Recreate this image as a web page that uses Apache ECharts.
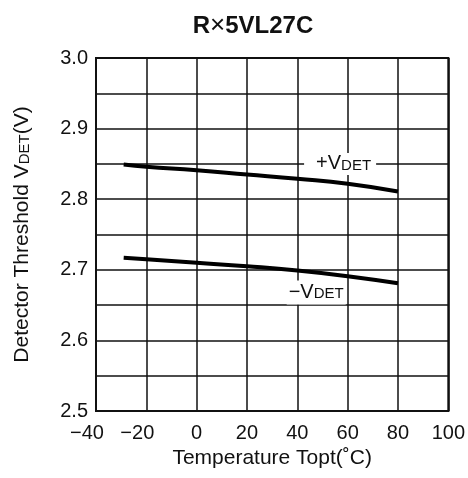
<!DOCTYPE html>
<html>
<head>
<meta charset="utf-8">
<script src="https://cdn.jsdelivr.net/npm/echarts@6/dist/echarts.min.js"></script>
<style>
  html, body { margin: 0; padding: 0; background: #fff; }
  #chart { width: 468px; height: 478px; }
</style>
</head>
<body>
<div id="chart"></div>
<script>
// values
const temps = [-29, -20, 0, 20, 40, 60, 80];
const plusVdet = [2.849, 2.846, 2.841, 2.835, 2.829, 2.822, 2.811];
const minusVdet = [2.717, 2.715, 2.710, 2.705, 2.699, 2.691, 2.681];
const xTicks = [-40, -20, 0, 20, 40, 60, 80, 100];
const yTicks = [2.5, 2.6, 2.7, 2.8, 2.9, 3.0];

const FONT = 'Liberation Sans, Arial, sans-serif';

const chart = echarts.init(document.getElementById('chart'));

function pairs(xs, ys) {
  return xs.map((x, i) => [x, ys[i]]);
}

const option = {
  backgroundColor: '#fff',
  animation: false,
  title: {
    text: '{b|R}{x|×}{b|5VL27C}',
    left: 248,
    top: 8,
    textAlign: 'center',
    textStyle: {
      rich: {
        b: { fontFamily: FONT, fontSize: 24, fontWeight: 'bold', color: '#111' },
        x: { fontFamily: FONT, fontSize: 26, fontWeight: 'normal', color: '#111' }
      }
    }
  },
  grid: {
    left: 96,
    right: 17,
    top: 58,
    bottom: 67,
    show: true,
    borderColor: '#111',
    borderWidth: 2
  },
  xAxis: {
    type: 'value',
    min: -40,
    max: 100,
    interval: 20,
    name: 'Temperature Topt(˚C)',
    nameLocation: 'middle',
    nameGap: 33,
    nameTextStyle: { fontFamily: FONT, fontSize: 21, color: '#111' },
    axisLine: { show: true, onZero: false, lineStyle: { color: '#111', width: 2 } },
    axisTick: { show: false },
    splitLine: { show: true, lineStyle: { color: '#111', width: 1.5 } },
    axisLabel: {
      margin: 12,
      fontFamily: FONT,
      fontSize: 20,
      color: '#111',
      formatter: v => {
        if (xTicks.indexOf(v) < 0) return '';
        return v < 0 ? '{n|−' + Math.abs(v) + '}' : String(v);
      },
      rich: {
        n: { fontFamily: FONT, fontSize: 20, color: '#111', padding: [0, 18, 0, 0] }
      }
    }
  },
  yAxis: {
    type: 'value',
    min: 2.5,
    max: 3.0,
    interval: 0.05,
    name: '{a|Detector Threshold V}{s|DET}{a|(V)}',
    nameLocation: 'middle',
    nameGap: 63,
    nameTextStyle: {
      rich: {
        a: { fontFamily: FONT, fontSize: 21, color: '#111' },
        s: { fontFamily: FONT, fontSize: 15, color: '#111', padding: [4, 0, 0, 0] }
      }
    },
    axisLine: { show: true, onZero: false, lineStyle: { color: '#111', width: 2 } },
    axisTick: { show: false },
    splitLine: { show: true, lineStyle: { color: '#111', width: 1.5 } },
    axisLabel: {
      margin: 8,
      fontFamily: FONT,
      fontSize: 20,
      color: '#111',
      formatter: v => {
        const hit = yTicks.some(t => Math.abs(t - v) < 1e-6);
        return hit ? v.toFixed(1) : '';
      }
    }
  },
  series: [
    {
      name: '+VDET',
      type: 'line',
      smooth: 0.5,
      showSymbol: false,
      data: pairs(temps, plusVdet),
      lineStyle: { color: '#000', width: 4 },
      markPoint: {
        symbol: 'circle',
        symbolSize: 0,
        data: [{ coord: [57, 2.85] }],
        label: {
          show: true,
          position: 'inside',
          formatter: '{v|+V}{d|DET}',
          backgroundColor: '#fff',
          padding: [1, 5, 1, 12],
          rich: {
            v: { fontFamily: FONT, fontSize: 20, color: '#111' },
            d: { fontFamily: FONT, fontSize: 15, color: '#111', padding: [3, 0, 0, 0] }
          }
        }
      }
    },
    {
      name: '-VDET',
      type: 'line',
      smooth: 0.5,
      showSymbol: false,
      data: pairs(temps, minusVdet),
      lineStyle: { color: '#000', width: 4 },
      markPoint: {
        symbol: 'circle',
        symbolSize: 0,
        data: [{ coord: [47.5, 2.668] }],
        label: {
          show: true,
          position: 'inside',
          formatter: '{v|−V}{d|DET}',
          backgroundColor: '#fff',
          padding: [2, 2, 2, 2],
          rich: {
            v: { fontFamily: FONT, fontSize: 20, color: '#111' },
            d: { fontFamily: FONT, fontSize: 15, color: '#111', padding: [3, 0, 0, 0] }
          }
        }
      }
    }
  ]
};

chart.setOption(option);
</script>
</body>
</html>
